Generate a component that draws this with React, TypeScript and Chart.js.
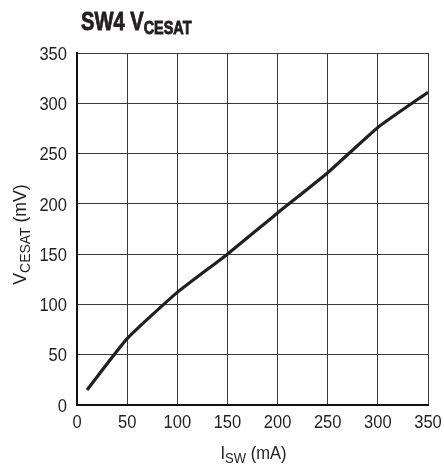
import React, { useEffect, useRef } from "react";
import { Chart, registerables } from "chart.js";

Chart.register(...registerables);

const currentMA = [10, 50, 100, 150, 200, 250, 300, 350];
const vcesatMV = [15, 66, 112, 150, 191, 231, 276, 311];
const tickValues = [0, 50, 100, 150, 200, 250, 300, 350];
const titleMain = "SW4 V";
const titleSub = "CESAT";
const xTitle = ["I", "SW", " (mA)"];
const yTitle = ["V", "CESAT", " (mV)"];

const FONT = "'Liberation Sans', Arial, sans-serif";
const INK = "#231f20";

type Part = { text: string; size: number; bold?: boolean; dy: number };

function drawParts(
  ctx: CanvasRenderingContext2D,
  parts: Part[],
  x: number,
  y: number,
  sx: number,
  align: "left" | "center",
  stroke = 0
) {
  let total = 0;
  const widths = parts.map((p) => {
    ctx.font = `${p.bold ? "bold " : ""}${p.size}px ${FONT}`;
    const w = ctx.measureText(p.text).width;
    total += w;
    return w;
  });
  ctx.save();
  ctx.translate(x, y);
  ctx.scale(sx, 1);
  let cx = align === "center" ? -total / 2 : 0;
  ctx.textAlign = "left";
  ctx.textBaseline = "alphabetic";
  ctx.strokeStyle = INK;
  ctx.lineWidth = stroke;
  parts.forEach((p, i) => {
    ctx.font = `${p.bold ? "bold " : ""}${p.size}px ${FONT}`;
    ctx.fillText(p.text, cx, p.dy);
    if (stroke > 0) ctx.strokeText(p.text, cx, p.dy);
    cx += widths[i];
  });
  ctx.restore();
}

const labelsPlugin = {
  id: "labelsPlugin",
  afterDraw(chart: any) {
    const ctx = chart.ctx as CanvasRenderingContext2D;
    const area = chart.chartArea;
    const xs = chart.scales.x;
    const ys = chart.scales.y;
    ctx.save();
    ctx.fillStyle = INK;

    // tick labels
    ctx.font = `19px ${FONT}`;
    ctx.textBaseline = "middle";
    tickValues.forEach((v) => {
      const label = String(v);
      const w = ctx.measureText(label).width * 0.87;
      const px = xs.getPixelForValue(v);
      ctx.save();
      ctx.translate(px - w / 2, area.bottom + 17.5);
      ctx.scale(0.87, 1);
      ctx.textAlign = "left";
      ctx.fillText(label, 0, 0);
      ctx.restore();
      const py = ys.getPixelForValue(v);
      ctx.save();
      ctx.translate(area.left - 10 - w, py + 1.5);
      ctx.scale(0.87, 1);
      ctx.textAlign = "left";
      ctx.fillText(label, 0, 0);
      ctx.restore();
    });

    // title
    drawParts(
      ctx,
      [
        { text: titleMain, size: 26.5, bold: true, dy: 0 },
        { text: titleSub, size: 19, bold: true, dy: 4 },
      ],
      81,
      30,
      0.76,
      "left",
      0.9
    );

    // x title
    drawParts(
      ctx,
      [
        { text: xTitle[0], size: 19, dy: 0 },
        { text: xTitle[1], size: 15, dy: 4 },
        { text: xTitle[2], size: 19, dy: 0 },
      ],
      (area.left + area.right) / 2 + 1,
      459,
      0.87,
      "center"
    );

    // y title
    ctx.save();
    ctx.translate(26, 234.5);
    ctx.rotate(-Math.PI / 2);
    drawParts(
      ctx,
      [
        { text: yTitle[0], size: 19, dy: 0 },
        { text: yTitle[1], size: 15, dy: 4 },
        { text: yTitle[2], size: 19, dy: 0 },
      ],
      0,
      0,
      0.93,
      "center"
    );
    ctx.restore();
    ctx.restore();
  },
};

export default function App() {
  const ref = useRef<HTMLCanvasElement>(null);
  useEffect(() => {
    if (!ref.current) return;
    const chart = new Chart(ref.current, {
      type: "line",
      data: {
        datasets: [
          {
            data: currentMA.map((x, i) => ({ x, y: vcesatMV[i] })),
            borderColor: INK,
            borderWidth: 3.2,
            pointRadius: 0,
            tension: 0.15,
            fill: false,
          },
        ],
      },
      options: {
        animation: false,
        responsive: false,
        maintainAspectRatio: false,
        layout: { padding: { left: 0, top: 53, right: 16, bottom: 0 } },
        plugins: { legend: { display: false }, tooltip: { enabled: false }, title: { display: false } },
        scales: {
          x: {
            type: "linear",
            min: 0,
            max: 350,
            afterFit: (s: any) => { s.height = 64; },
            afterBuildTicks: (s: any) => { s.ticks = tickValues.map((v) => ({ value: v })); },
            grid: { color: "#3a3a3a", lineWidth: 1, drawTicks: false },
            border: { color: "#111", width: 2 },
            ticks: { display: false },
          },
          y: {
            type: "linear",
            min: 0,
            max: 350,
            afterFit: (s: any) => { s.width = 77; },
            afterBuildTicks: (s: any) => { s.ticks = tickValues.map((v) => ({ value: v })); },
            grid: { color: "#3a3a3a", lineWidth: 1, drawTicks: false },
            border: { color: "#111", width: 2 },
            ticks: { display: false },
          },
        },
      },
      plugins: [labelsPlugin],
    });
    return () => chart.destroy();
  }, []);
  return (
    <div style={{ position: "fixed", left: 0, top: 0, width: 444, height: 469, background: "#fff" }}>
      <canvas ref={ref} width={444} height={469} />
    </div>
  );
}
